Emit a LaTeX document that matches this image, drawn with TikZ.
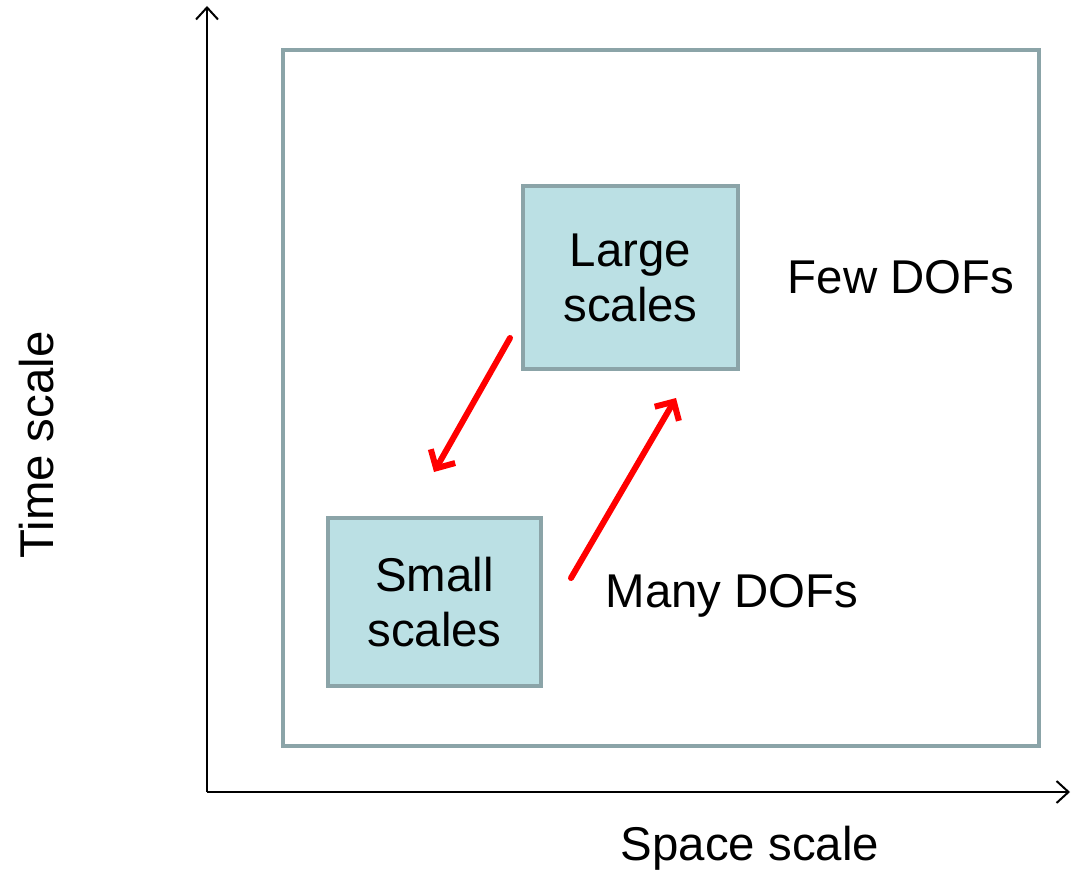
\documentclass[tikz,border=0pt]{standalone}
\usepackage{fontspec}
\setmainfont{Liberation Sans}
\usetikzlibrary{arrows.meta}
\definecolor{frameline}{RGB}{139,164,168}
\definecolor{scalefill}{RGB}{187,224,228}

\begin{document}
\begin{tikzpicture}[x=0.5pt, y=-0.5pt, >={Straight Barb[length=6pt, width=11pt]},
    every node/.style={font=\fontsize{23.7}{27.5}\selectfont},
    scalebox/.style={draw=frameline, line width=2pt, fill=scalefill, align=center, inner sep=0pt}]
    \useasboundingbox (0,0) rectangle (1072,872);
    \coordinate (O) at (207,792);
    \coordinate (T) at (207,6);
    \coordinate (S) at (1070,792);

    % axes
    \draw[->, line width=1pt] (O) -- (T);
    \draw[->, line width=1pt] (O) -- (S);
    \node[rotate=90] (time) at (37,445) {Time scale};
    \node (space) at (750,848) {Space scale};

    % frame
    \draw[frameline, line width=2pt] (283,50) rectangle (1039,746);

    \node[scalebox, minimum width=107.5pt, minimum height=91.5pt] (large) at (630.5,277.5) {Large\\scales};
    \node[scalebox, minimum width=106.5pt, minimum height=84pt] (small) at (434.5,602) {Small\\scales};
    \node (few) at (901,277) {Few DOFs};
    \node (many) at (732,596) {Many DOFs};

    \coordinate (A) at (510,338);
    \coordinate (B) at (434,472);
    \coordinate (C) at (571,578);
    \coordinate (D) at (676,398);
    \draw[->, red, line width=3pt, line cap=round, >={Straight Barb[length=7pt, width=14pt]}] (A) -- (B);
    \draw[->, red, line width=3pt, line cap=round, >={Straight Barb[length=7pt, width=14pt]}] (C) -- (D);
\end{tikzpicture}
\end{document}
